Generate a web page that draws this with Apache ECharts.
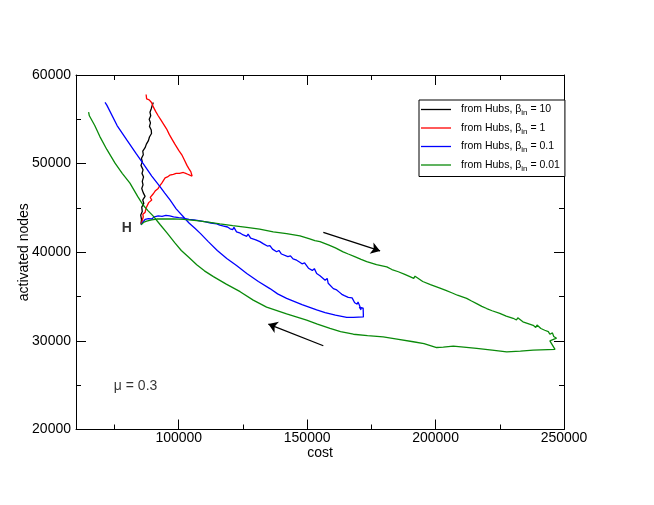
<!DOCTYPE html>
<html>
<head>
<meta charset="utf-8">
<script src="https://cdn.jsdelivr.net/npm/echarts@6/dist/echarts.min.js"></script>
<style>html,body{margin:0;padding:0;background:#fff}#c{width:654px;height:505px}</style>
</head>
<body>
<div id="c"></div>
<script>
// ---- data (cost, activated nodes) ----
const betaValues = ['10', '1', '0.1', '0.01'];
const seriesColors = ['#000000', '#ff0000', '#0000ff', '#0a8a0a'];

const hubsBeta10 = [[85300,43200],[85500,43700],[85200,44200],[85800,44600],[85600,45100],[86400,45500],[86000,45900],[86900,46300],[86200,46700],[85600,47200],[86100,47600],[85800,48000],[86300,48500],[85700,48900],[86100,49300],[85300,49800],[85800,50200],[85500,50600],[86200,51000],[86000,51400],[86900,51800],[87400,52200],[88200,52600],[88600,53000],[89400,53400],[89300,53800],[88600,54200],[89000,54600],[88500,55000],[89100,55400],[88800,55800],[89300,56200],[89600,56500],[90100,56900]];

const hubsBeta1 = [[85300,43200],[85700,43500],[86200,44000],[86000,44300],[86900,44500],[87300,45000],[87800,45200],[88300,45600],[89500,45900],[88900,46200],[90100,46600],[90800,46900],[92000,47200],[92600,47500],[93400,47800],[94000,48000],[94700,48400],[95600,48500],[96500,48700],[97900,48800],[99000,48900],[100300,48900],[101800,49000],[102700,48900],[103500,48800],[104300,48700],[105000,48600],[104400,48900],[105200,48600],[104700,49100],[104000,49400],[103200,49800],[102200,50400],[101200,51000],[100000,51500],[98500,52200],[97300,52800],[96300,53300],[95300,53900],[94200,54400],[93100,54900],[92000,55400],[91000,55900],[90100,56400],[89400,56900],[88500,57200],[87500,57300],[86900,57500],[87300,57800]];

const hubsBeta01 = [[85300,43100],[86000,43400],[86900,43700],[88200,43800],[89500,43750],[90500,44000],[92000,44100],[93500,44050],[95000,44150],[96500,44100],[98000,44000],[100000,43900],[101800,43850],[104000,43700],[106000,43650],[108300,43550],[110000,43450],[112500,43300],[114800,43200],[116000,43050],[116500,43250],[117500,42950],[119000,42850],[120000,42650],[121000,42550],[121500,42800],[122500,42300],[124000,42150],[125100,41950],[126500,41800],[127000,42050],[128000,41600],[130000,41400],[131600,41200],[133000,40950],[134500,40700],[135500,40750],[136500,40350],[138100,40050],[139000,40200],[140000,39800],[142500,39500],[143500,39600],[144500,39250],[145900,39100],[147000,38900],[148000,38700],[149000,38800],[150500,38200],[152000,37950],[152800,38150],[153700,37600],[155000,37350],[156000,37100],[157000,36850],[157800,37050],[158200,36500],[160200,35900],[161500,35750],[162500,35500],[163500,35250],[164000,35450],[164500,35100],[166000,34900],[166700,34700],[167500,34850],[168500,34300],[169500,34150],[169800,34400],[170500,33900],[171000,33500],[170300,33800],[171800,33700],[171900,32700],[168000,32650],[165400,32650],[161000,32900],[157000,33200],[153700,33500],[148000,34100],[142000,34800],[138500,35300],[135500,35900],[131000,36700],[126500,37600],[122500,38500],[118700,39300],[115000,40200],[111500,41200],[108500,42100],[106300,42700],[104000,43300],[101800,44000],[99000,44900],[96600,45900],[94500,46700],[92700,47400],[89500,48600],[86900,49700],[83500,51100],[79700,52700],[76000,54300],[72000,56600],[71300,56900]];

const hubsBeta001 = [[85300,43100],[86500,43400],[87500,43500],[89500,43650],[91400,43750],[94500,43750],[97900,43760],[102000,43700],[107000,43570],[111500,43400],[116000,43200],[121000,43000],[126500,42800],[131500,42600],[136800,42300],[142000,42100],[147200,41850],[151000,41500],[153000,41300],[153500,41500],[155000,41200],[158500,40800],[161000,40500],[164000,40050],[166000,39800],[166500,40000],[168500,39500],[171000,39200],[173200,38950],[177000,38600],[181000,38350],[183000,38050],[183500,38250],[185500,37800],[188000,37500],[190000,37250],[191500,37050],[192000,37300],[195000,36700],[198000,36350],[198500,36550],[201700,35950],[204000,35700],[206500,35400],[208500,35150],[209000,35350],[212100,34800],[214000,34500],[214500,34700],[216000,34200],[218000,33900],[219900,33650],[222000,33400],[222500,33600],[225000,33100],[227500,32800],[230200,32550],[231500,32350],[232000,32600],[234000,32150],[236000,31950],[238000,31750],[239000,31500],[239500,31800],[241000,31400],[242500,31200],[243900,31050],[244500,30750],[245500,30900],[246000,30500],[247100,30300],[244500,30000],[243900,29900],[246500,29050],[238000,28950],[233000,28850],[227700,28750],[222000,28950],[216000,29150],[211000,29300],[206900,29400],[203000,29300],[200400,29250],[195500,29700],[191300,29900],[185000,30200],[179600,30450],[173500,30600],[168000,30750],[163000,31050],[158900,31400],[154000,31900],[149800,32350],[142000,33050],[134200,33800],[129000,34600],[123900,35550],[118500,36400],[113500,37250],[110000,37900],[107000,38600],[104000,39400],[101000,40200],[98500,41050],[95500,42150],[92800,43100],[90000,44100],[88000,44700],[86200,45300],[84000,46300],[81000,47800],[78000,48900],[75200,50050],[72000,51600],[69300,53050],[67300,54300],[65200,55400],[64600,55500],[64900,55800]];

const arrowForward = [[156300,42250],[178400,40150]];
const arrowBack = [[156300,29450],[134900,31900]];
const hLabelPos = [79800, 42750];
const muLabelPos = [83200, 24900];

const xMajorTicks = [100000, 150000, 200000, 250000];
const xMinorTicks = [75000, 125000, 175000, 225000];

// ---- chart ----
const font = 'Liberation Sans, Arial, sans-serif';
const names = betaValues.map(b => 'from Hubs, \u03b2in = ' + b);
const curves = [hubsBeta10, hubsBeta1, hubsBeta01, hubsBeta001];
const plain = v => String(v);

function xAxisDef(pos, ticks, len, withLine, withLabels) {
  return {
    type: 'value', position: pos, min: 60000, max: 250000,
    axisLine: { show: withLine, onZero: false, lineStyle: { color: '#000', width: 1 } },
    splitLine: { show: false },
    axisTick: { show: true, inside: true, length: len, customValues: ticks, lineStyle: { color: '#000', width: 1 } },
    axisLabel: withLabels ? { show: true, customValues: ticks, formatter: plain, color: '#000', fontSize: 14, fontFamily: font, margin: 2 } : { show: false },
    name: withLabels ? 'cost' : '', nameLocation: 'middle', nameGap: 17, nameMoveOverlap: false,
    nameTextStyle: { color: '#000', fontSize: 14, fontFamily: font }
  };
}
function yAxisDef(pos, withLabels) {
  return {
    type: 'value', position: pos, min: 20000, max: 60000, interval: 10000,
    axisLine: { show: true, onZero: false, lineStyle: { color: '#000', width: 1 } },
    splitLine: { show: false },
    axisTick: { show: true, inside: true, length: 10, lineStyle: { color: '#000', width: 1 } },
    minorTick: { show: true, splitNumber: 2, length: 5, lineStyle: { color: '#000', width: 1 } },
    axisLabel: withLabels ? { show: true, formatter: plain, color: '#000', fontSize: 14, fontFamily: font, margin: 5 } : { show: false },
    name: withLabels ? 'activated nodes' : '', nameLocation: 'middle', nameGap: 45, nameRotate: 90, nameMoveOverlap: false,
    nameTextStyle: { color: '#000', fontSize: 14, fontFamily: font }
  };
}

const series = curves.map((d, i) => ({
  name: names[i], type: 'line', data: d, symbol: 'none', showSymbol: false,
  xAxisIndex: 0, yAxisIndex: 0, z: 2 + i,
  lineStyle: { color: seriesColors[i], width: 1.3 }, itemStyle: { color: seriesColors[i] }
}));
series.push({
  type: 'lines', coordinateSystem: 'cartesian2d', xAxisIndex: 0, yAxisIndex: 0, z: 10,
  symbol: ['none', 'arrow'], symbolSize: [6, 9],
  lineStyle: { color: '#000', width: 1.3, opacity: 1 },
  data: [{ coords: arrowForward }, { coords: arrowBack }]
});
series.push({
  type: 'scatter', xAxisIndex: 0, yAxisIndex: 0, symbolSize: 0, z: 11,
  data: [
    { value: hLabelPos, label: { formatter: 'H', fontWeight: 'bold', fontSize: 14 } },
    { value: muLabelPos, label: { formatter: '\u03bc = 0.3', fontSize: 14 } }
  ],
  label: { show: true, position: 'inside', color: '#000', fontFamily: font }
});

const chart = echarts.init(document.getElementById('c'), null, { renderer: 'canvas' });
chart.setOption({
  animation: false,
  backgroundColor: '#fff',
  textStyle: { fontFamily: font },
  grid: { left: 76, right: 90, top: 75, bottom: 75.5, containLabel: false, outerBoundsMode: 'none' },
  xAxis: [
    xAxisDef('bottom', xMajorTicks, 10, true, true),
    xAxisDef('bottom', xMinorTicks, 5, false, false),
    xAxisDef('top', xMajorTicks, 10, true, false),
    xAxisDef('top', xMinorTicks, 5, false, false)
  ],
  yAxis: [yAxisDef('left', true), yAxisDef('right', false)],
  legend: {
    data: names, orient: 'vertical', left: 419, top: 100,
    itemWidth: 30, itemHeight: 12, itemGap: 5.5,
    padding: [4, 5, 4, 2],
    borderColor: '#000', borderWidth: 1, backgroundColor: '#fff',
    icon: 'path://M0,0 L30,0 L30,1.3 L0,1.3 Z',
    formatter: function (n) {
      const b = n.split('= ')[1];
      return '{t|from Hubs, \u03b2}{s|in}{t| = ' + b + '}';
    },
    textStyle: {
      color: '#000', fontFamily: font, padding: [0, 0, 0, 5],
      rich: {
        t: { fontSize: 10.5, fontFamily: font, color: '#000' },
        s: { fontSize: 8, fontFamily: font, color: '#000', padding: [7, 0, 0, 0] }
      }
    }
  },
  series: series
});
</script>
</body>
</html>
